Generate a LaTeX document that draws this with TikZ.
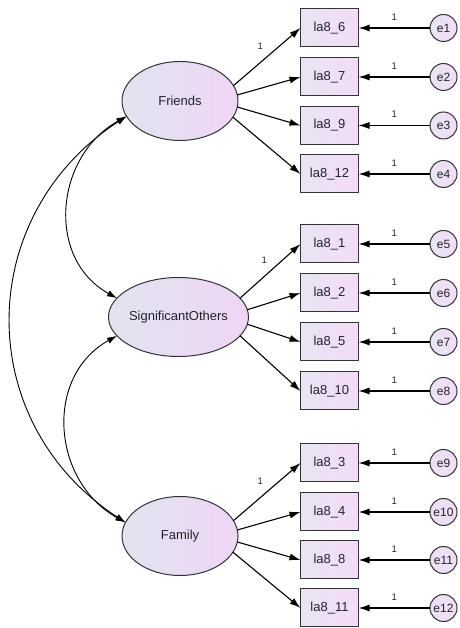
\documentclass[tikz,border=0pt]{standalone}
\usepackage{fontspec}
\setmainfont{Liberation Sans}
\usetikzlibrary{arrows.meta,shapes.geometric}
\definecolor{latL}{RGB}{226,228,240}
\definecolor{latR}{RGB}{238,214,244}
\definecolor{boxL}{RGB}{232,228,242}
\definecolor{boxR}{RGB}{243,220,247}
\definecolor{edge}{RGB}{50,50,55}
\definecolor{txt}{RGB}{35,35,45}
\tikzset{
  latent/.style={ellipse, draw=edge, line width=1pt, minimum width=116pt, minimum height=79pt,
    inner sep=0pt, outer sep=0pt, left color=latL, right color=latR, text=txt,
    font=\fontsize{13}{15}\selectfont},
  obsbox/.style={rectangle, draw=edge, line width=1pt, minimum width=58pt, minimum height=38pt,
    inner sep=0pt, outer sep=0pt, left color=boxL, right color=boxR, text=txt,
    font=\fontsize{13}{15}\selectfont},
  errc/.style={circle, draw=edge, line width=1pt, minimum size=27pt, inner sep=0pt, outer sep=0pt,
    left color=boxL, right color=boxR, text=txt, font=\fontsize{12}{14}\selectfont},
  load/.style={draw=black, line width=1.1pt, -{Latex[length=11pt,width=7pt]}},
  cov/.style={draw=black, line width=0.9pt, {Latex[length=10pt,width=6.5pt]}-{Latex[length=10pt,width=6.5pt]}},
  one/.style={text=txt, font=\fontsize{9.5}{11}\selectfont, inner sep=0pt}
}
\begin{document}
\begin{tikzpicture}[x=1pt,y=1pt]
\fill[white] (0,0) rectangle (459,628);
\useasboundingbox (0,0) rectangle (459,628);

% latent variables
\node[latent] (F) at (180,527) {Friends};
\node[latent] (S) at (178.5,311) {SignificantOthers};
\node[latent] (Fa) at (180,92) {Family};

% observed boxes
\node[obsbox] (b1) at (329.5,600) {la8\_6};
\node[obsbox] (b2) at (329.5,551) {la8\_7};
\node[obsbox] (b3) at (329.5,502.5) {la8\_9};
\node[obsbox] (b4) at (329.5,454) {la8\_12};
\node[obsbox] (b5) at (329.5,384) {la8\_1};
\node[obsbox] (b6) at (329.5,335) {la8\_2};
\node[obsbox] (b7) at (329.5,286) {la8\_5};
\node[obsbox] (b8) at (329.5,237) {la8\_10};
\node[obsbox] (b9) at (329.5,165) {la8\_3};
\node[obsbox] (b10) at (329.5,116) {la8\_4};
\node[obsbox] (b11) at (329.5,68) {la8\_8};
\node[obsbox] (b12) at (329.5,20) {la8\_11};

% error terms
\foreach \i/\y in {1/600,2/551,3/502.5,4/454,5/384,6/335,7/286,8/237,9/165,10/116,11/68,12/20}{
  \node[errc] (e\i) at (443.5,\y) {e\i};
  \draw[load] (e\i) -- (b\i) node[one, midway, yshift=11pt] {1};
}

% loadings
\draw[load] (F.16) -- (b1.west) node[one, pos=0.4, yshift=16pt] {1};
\draw[load] (F.6) -- (b2.west);
\draw[load] (F.-6) -- (b3.west);
\draw[load] (F.-17) -- (b4.west);

\draw[load] (S.17) -- (b5.west) node[one, pos=0.4, yshift=16pt] {1};
\draw[load] (S.6) -- (b6.west);
\draw[load] (S.-6) -- (b7.west);
\draw[load] (S.-17) -- (b8.west);

\draw[load] (Fa.16) -- (b9.west) node[one, pos=0.4, yshift=16pt] {1};
\draw[load] (Fa.6) -- (b10.west);
\draw[load] (Fa.-6) -- (b11.west);
\draw[load] (Fa.-17) -- (b12.west);

% covariances
\draw[cov] (F.196) to[out=213, in=147, looseness=1.15] (Fa.166);
\draw[cov] (F.196) to[out=209, in=151, looseness=1.15] (S.163);
\draw[cov] (S.197) to[out=209, in=151, looseness=1.15] (Fa.166);
\end{tikzpicture}
\end{document}
